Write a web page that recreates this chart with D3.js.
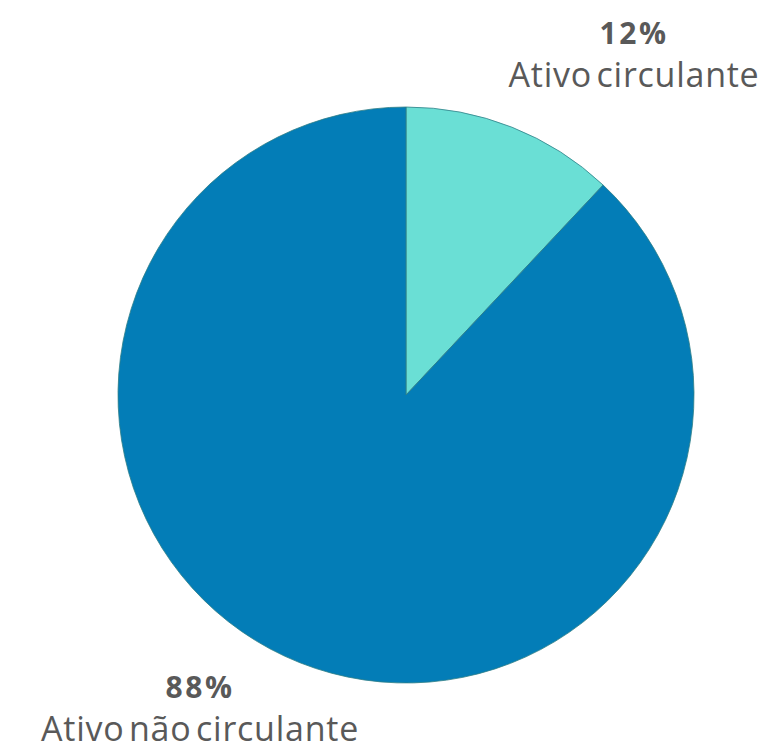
<!DOCTYPE html>
<html>
<head>
<meta charset="utf-8">
<script src="https://cdn.jsdelivr.net/npm/d3@7"></script>
<style>
  body { margin: 0; background: #fff; }
  svg text { font-family: "Open Sans", sans-serif; fill: #595959; }
</style>
</head>
<body>
<svg id="chart" width="782" height="749"></svg>
<script>
var categories = ["Ativo circulante", "Ativo não circulante"];
var values = [12, 88];
var colors = ["#6adfd5", "#037db7"];

// label anchors (percent line baseline), per slice
var labelPos = [[634, 44], [200, 698]];

var cx = 406, cy = 395, radius = 288;

var svg = d3.select('#chart');

var pie = d3.pie().sort(null).value(d => d)(values);
var arc = d3.arc().innerRadius(0).outerRadius(radius);

var g = svg.append('g').attr('transform', `translate(${cx},${cy})`);

g.selectAll('path')
    .data(pie)
    .enter()
    .append('path')
    .attr('d', arc)
    .attr('fill', (d, i) => colors[i])
    .attr('stroke', '#2f7f86')
    .attr('stroke-width', 0.8);

var labels = svg.selectAll('g.lbl')
    .data(pie)
    .enter()
    .append('g')
    .attr('class', 'lbl')
    .attr('transform', (d, i) => `translate(${labelPos[i][0]},${labelPos[i][1]})`);

labels.append('text')
    .attr('text-anchor', 'middle')
    .style('font-size', '30px')
    .style('font-weight', 'bold')
    .style('letter-spacing', '2.5px')
    .text(d => `${d.data}%`);

labels.append('text')
    .attr('text-anchor', 'middle')
    .attr('y', 43)
    .style('font-size', '34px')
    .style('letter-spacing', '0.75px')
    .style('word-spacing', '-5px')
    .text((d, i) => categories[i]);
</script>
</body>
</html>
